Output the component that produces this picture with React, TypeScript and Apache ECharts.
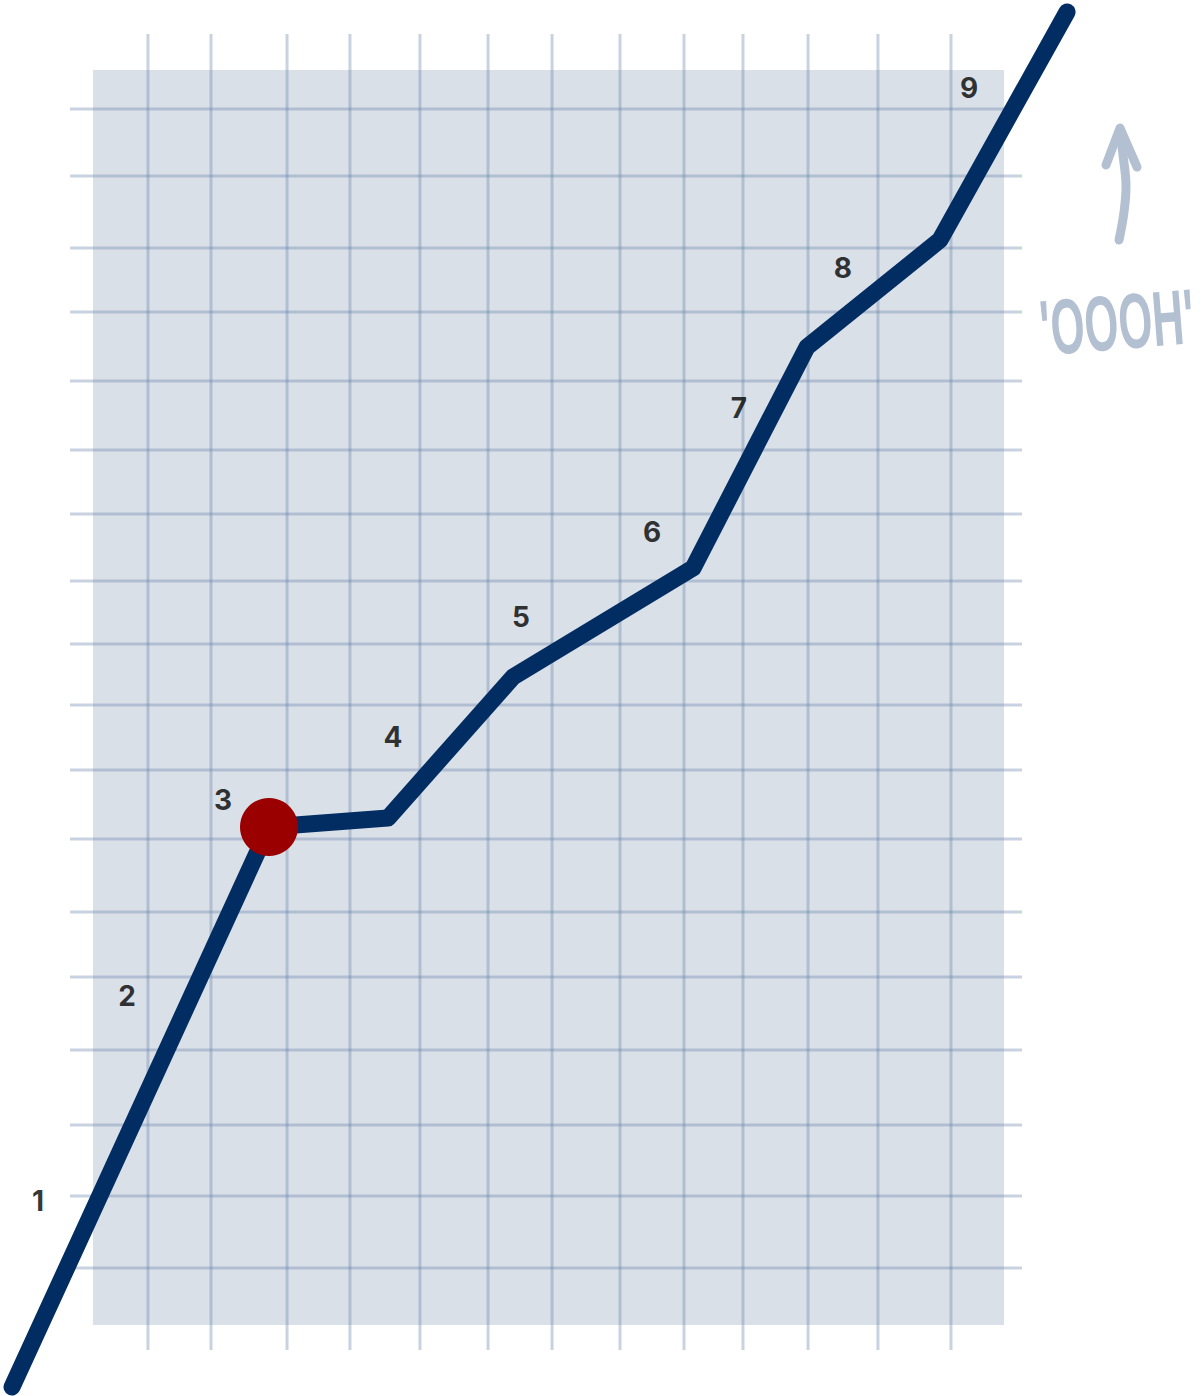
import React, { useEffect, useRef } from "react";
import * as echarts from "echarts";

// chart units: both axes run 0..100 across the whole picture

// path of the line
const lineX = [1.0, 22.36, 32.25, 42.64, 57.61, 67.08, 78.14, 88.7];
const lineY = [0.64, 40.76, 41.4, 51.5, 59.31, 75.14, 82.81, 99.14];
const highlightIndex = 1;

// numbered steps along the line
const stepLabels = ["1", "2", "3", "4", "5", "6", "7", "8", "9"];
const stepX = [3.16, 10.56, 18.54, 32.67, 43.31, 54.2, 61.43, 70.07, 80.55];
const stepY = [13.97, 28.65, 42.69, 47.21, 55.8, 61.89, 70.77, 80.8, 93.7];

// hand drawn grid
const gridXTicks = [12.3, 17.54, 23.86, 29.09, 34.91, 40.57, 45.89, 51.54, 56.86, 61.76, 67.17, 72.98, 79.05];
const gridYTicks = [
  9.17, 14.33, 19.41, 24.79, 30.01, 34.67, 39.9, 44.84, 49.5, 53.87, 58.38, 63.18, 67.77, 72.71,
  77.65, 82.23, 87.39, 92.19,
];
const gridXSpan = [5.82, 84.95];
const gridYSpan = [3.3, 97.56];
const panel = [7.73, 5.09, 83.46, 94.99];

const App: React.FC = () => {
  const chartRef = useRef<HTMLDivElement>(null);

  useEffect(() => {
    if (!chartRef.current) return;

    const chart = echarts.init(chartRef.current, null, { renderer: "svg" });
    const gridStyle = { stroke: "rgba(100,125,165,0.35)", lineWidth: 3 };
    const note = "#b3c0d2";

    const option = {
      animation: false,
      grid: { left: 0, top: 0, width: 1203, height: 1396 },
      xAxis: { type: "value", min: 0, max: 100, show: false },
      yAxis: { type: "value", min: 0, max: 100, show: false },
      series: [
        {
          type: "custom",
          z: 1,
          silent: true,
          encode: { x: [0, 2], y: [1, 3] },
          data: [panel],
          renderItem: (_params: any, api: any) => {
            const p0 = api.coord([api.value(0), api.value(3)]);
            const p1 = api.coord([api.value(2), api.value(1)]);
            return {
              type: "rect",
              shape: { x: p0[0], y: p0[1], width: p1[0] - p0[0], height: p1[1] - p0[1] },
              style: { fill: "#dae0e8" },
            };
          },
        },
        {
          type: "custom",
          z: 2,
          silent: true,
          data: gridXTicks.map((v) => [v, 50]),
          renderItem: (_params: any, api: any) => {
            const top = api.coord([api.value(0), gridYSpan[1]]);
            const bottom = api.coord([api.value(0), gridYSpan[0]]);
            return {
              type: "line",
              shape: { x1: top[0], y1: top[1], x2: bottom[0], y2: bottom[1] },
              style: gridStyle,
            };
          },
        },
        {
          type: "custom",
          z: 2,
          silent: true,
          data: gridYTicks.map((v) => [50, v]),
          renderItem: (_params: any, api: any) => {
            const left = api.coord([gridXSpan[0], api.value(1)]);
            const right = api.coord([gridXSpan[1], api.value(1)]);
            return {
              type: "line",
              shape: { x1: left[0], y1: left[1], x2: right[0], y2: right[1] },
              style: gridStyle,
            };
          },
        },
        {
          type: "line",
          z: 3,
          clip: false,
          symbol: "none",
          data: lineX.map((x, i) => [x, lineY[i]]),
          lineStyle: { color: "#022d63", width: 17, cap: "round", join: "round" },
        },
        {
          type: "scatter",
          z: 4,
          clip: false,
          symbolSize: 58,
          data: [[lineX[highlightIndex], lineY[highlightIndex]]],
          itemStyle: { color: "#9b0000", opacity: 1 },
        },
        {
          type: "scatter",
          z: 5,
          clip: false,
          symbolSize: 1,
          itemStyle: { color: "rgba(0,0,0,0)" },
          data: stepLabels.map((s, i) => ({ name: s, value: [stepX[i], stepY[i]] })),
          label: {
            show: true,
            position: "inside",
            formatter: "{b}",
            fontSize: 28,
            fontWeight: "bold",
            fontFamily: "Inter, Roboto, sans-serif",
            color: "#000",
          },
        },
      ],
      graphic: [
        {
          type: "polyline",
          shape: {
            points: [
              [1119, 240],
              [1124, 212],
              [1126, 185],
              [1123, 155],
              [1120, 130],
            ],
            smooth: 0.4,
          },
          style: { stroke: note, lineWidth: 9, lineCap: "round", fill: null },
        },
        {
          type: "polyline",
          shape: {
            points: [
              [1106, 165],
              [1120, 128],
              [1137, 167],
            ],
          },
          style: { stroke: note, lineWidth: 9, lineCap: "round", lineJoin: "round", fill: null },
        },
        {
          type: "text",
          x: 1117,
          y: 322,
          rotation: 0.08,
          scaleX: 0.56,
          style: {
            text: "'OOOH'",
            fontSize: 78,
            fontWeight: "bold",
            fontFamily: "Liberation Sans, Arial, sans-serif",
            fill: note,
            align: "center",
            verticalAlign: "middle",
          },
        },
      ],
    };

    chart.setOption(option);

    return () => {
      chart.dispose();
    };
  }, []);

  return (
    <div
      ref={chartRef}
      style={{ position: "absolute", left: 0, top: 0, width: "1203px", height: "1396px" }}
    />
  );
};

export default App;
